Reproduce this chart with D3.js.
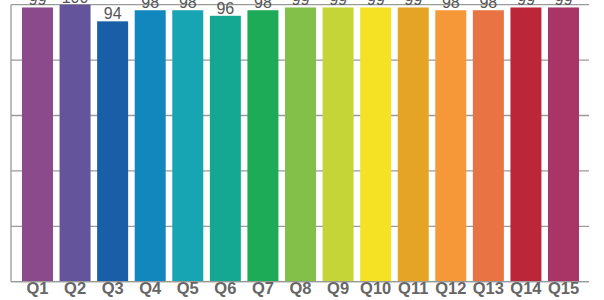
<!DOCTYPE html>
<html><head><meta charset="utf-8">
<script src="https://cdn.jsdelivr.net/npm/d3@7"></script>
<style>html,body{margin:0;padding:0;background:#fff;overflow:hidden}</style>
</head><body>
<svg id="c" width="604" height="300"></svg>
<script>
const categories = ["Q1","Q2","Q3","Q4","Q5","Q6","Q7","Q8","Q9","Q10","Q11","Q12","Q13","Q14","Q15"];
const values = [99,100,94,98,98,96,98,99,99,99,99,98,98,99,99];
const colors = ["#8B4A8C","#63549C","#1B5EA8","#1287BE","#17A5B3","#14A792","#1EAB58","#82C049","#C5D437","#F6E225","#E5A426","#F79838","#EA7343","#BB2738","#A93466"];
const yTicks = [0,20,40,60,80,100];

(function(){
const svg = d3.select("#c");
const pLeft = 11, pRight = 589, pTop = 4.7, pBottom = 281.7;
const x = d3.scaleBand().domain(categories).range([18.7, 582.3]).paddingInner(0.175).paddingOuter(0.0875);
const y = d3.scaleLinear().domain([0,100]).range([pBottom, pTop]);

svg.append("g").selectAll("line").data(yTicks).join("line")
  .attr("x1", pLeft).attr("x2", pRight)
  .attr("y1", d => y(d)).attr("y2", d => y(d))
  .attr("stroke", "#9a9a9a").attr("stroke-width", 1.3);
svg.append("line").attr("x1", pLeft).attr("x2", pLeft).attr("y1", pTop).attr("y2", pBottom)
  .attr("stroke", "#9a9a9a").attr("stroke-width", 1.3);

svg.append("g").selectAll("rect").data(categories).join("rect")
  .attr("x", d => x(d)).attr("width", x.bandwidth())
  .attr("y", (d,i) => y(values[i])).attr("height", (d,i) => y(0) - y(values[i]))
  .attr("fill", (d,i) => colors[i]);

svg.append("line").attr("x1", pLeft).attr("x2", pRight).attr("y1", pBottom).attr("y2", pBottom)
  .attr("stroke", "#9a9a9a").attr("stroke-width", 1.3);

svg.append("g").selectAll("text").data(categories).join("text")
  .attr("x", d => x(d) + x.bandwidth()/2)
  .attr("y", (d,i) => y(values[i]) - 2.2)
  .attr("text-anchor", "middle")
  .attr("font-family", "Liberation Sans, Arial, sans-serif")
  .attr("font-size", 16).attr("fill", "#555")
  .text((d,i) => values[i]);

const xAxis = d3.axisBottom(x).tickSize(0).tickPadding(0);
const gx = svg.append("g").attr("transform", `translate(0,${pBottom})`).call(xAxis);
gx.select(".domain").remove();
gx.selectAll("text")
  .attr("dy", null).attr("y", 12.4)
  .attr("font-family", "Liberation Sans, Arial, sans-serif")
  .attr("font-size", 16.5).attr("font-weight", "bold").attr("fill", "#666");
})();
</script>
</body></html>
